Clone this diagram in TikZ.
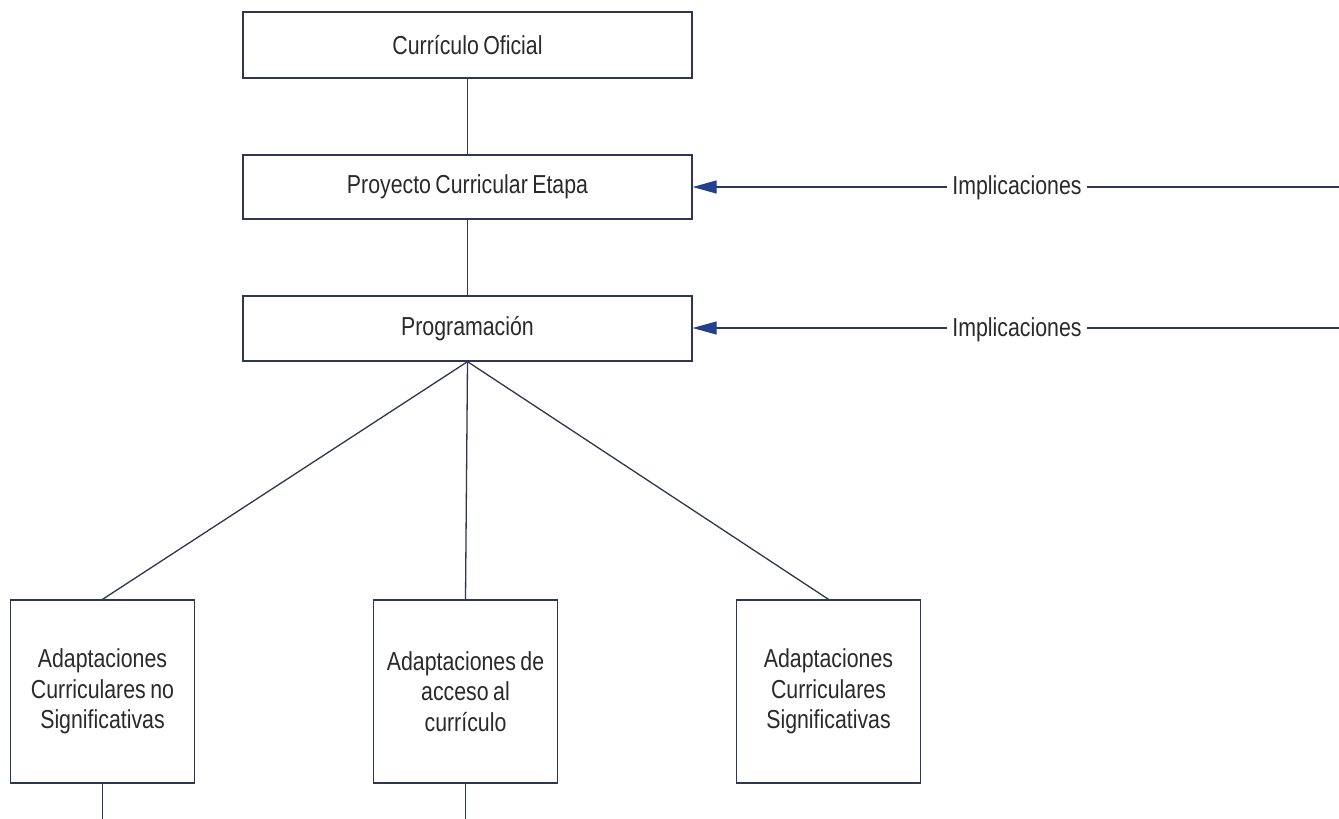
\documentclass[tikz,border=0pt]{standalone}
\usepackage{fontspec}
\setmainfont{Liberation Sans}[FakeStretch=0.82, WordSpace=0.75]
\usetikzlibrary{arrows.meta}
\definecolor{inkline}{HTML}{2E3650}
\definecolor{inktext}{HTML}{2A2A2A}
\definecolor{tipblue}{HTML}{23408C}
\begin{document}
\begin{tikzpicture}[x=1pt,y=-1pt,
  box/.style={draw=inkline, line width=1.3pt, fill=white, inner sep=0pt,
    text=inktext, font=\fontsize{26}{30.5}\selectfont, align=center},
  wide/.style={box, minimum width=449pt},
  tall/.style={box, minimum width=184pt, minimum height=183pt},
  link/.style={draw=inkline, line width=1.3pt},
  label/.style={text=inktext, font=\fontsize{26}{30.5}\selectfont, inner xsep=5pt, inner ysep=0pt},
  feed/.style={link, -{Triangle[length=24pt,width=13pt,color=tipblue]}}
]
\useasboundingbox (0,0) rectangle (1339,819);
\fill[white] (0,0) rectangle (1339,819);

% main chain
\node[wide, minimum height=66pt] (oficial) at (467.5,45) {Currículo Oficial};
\node[wide, minimum height=64pt] (etapa) at (467.5,187) {Proyecto Curricular Etapa};
\node[wide, minimum height=65pt] (prog) at (467.5,328.5) {Programación};

% three kinds of adaptation
\node[tall] (nosig) at (102.5,691.5) {Adaptaciones\\Curriculares no\\Significativas};
\node[tall] (acceso) at (465.5,691.5) {Adaptaciones de\\acceso al\\currículo};
\node[tall] (sig) at (828.5,691.5) {Adaptaciones\\Curriculares\\Significativas};

\draw[link] (oficial) -- (etapa);
\draw[link] (etapa) -- (prog);
\draw[link] (prog.south) -- (nosig.north);
\draw[link] (prog.south) -- (acceso.north);
\draw[link] (prog.south) -- (sig.north);

% lines leaving the lower edge
\coordinate (nosigout) at (102.5,819);
\coordinate (accesoout) at (465.5,819);
\draw[link] (nosig.south) -- (nosigout);
\draw[link] (acceso.south) -- (accesoout);

% feedback from the right
\node[label] (imp1) at (1017,188) {Implicaciones};
\node[label] (imp2) at (1017,330) {Implicaciones};
\coordinate (in1) at (1339,187);
\coordinate (in2) at (1339,328);
\draw[link] (in1) -- (imp1.east |- in1);
\draw[link] (in2) -- (imp2.east |- in2);
\draw[feed] (imp1.west |- in1) -- (etapa.east |- in1);
\draw[feed] (imp2.west |- in2) -- (prog.east |- in2);
\end{tikzpicture}
\end{document}
